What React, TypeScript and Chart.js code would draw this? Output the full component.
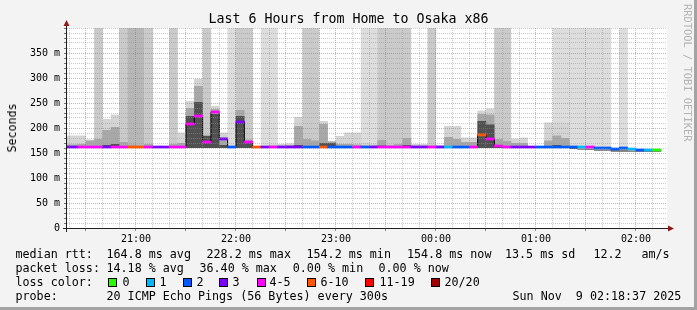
import React, { useEffect, useRef } from "react";
import { Chart, registerables } from "chart.js";

Chart.register(...registerables);

const MONO = "'DejaVu Sans Mono', monospace";

// ---------- data (one entry per 300 s step, step start time) ----------
const stepStart = [
  "20:15", "20:20", "20:25", "20:30", "20:35", "20:40", "20:45", "20:50", "20:55", "21:00", "21:05", "21:10",
  "21:15", "21:20", "21:25", "21:30", "21:35", "21:40", "21:45", "21:50", "21:55", "22:00", "22:05", "22:10",
  "22:15", "22:20", "22:25", "22:30", "22:35", "22:40", "22:45", "22:50", "22:55", "23:00", "23:05", "23:10",
  "23:15", "23:20", "23:25", "23:30", "23:35", "23:40", "23:45", "23:50", "23:55", "00:00", "00:05", "00:10",
  "00:15", "00:20", "00:25", "00:30", "00:35", "00:40", "00:45", "00:50", "00:55", "01:00", "01:05", "01:10",
  "01:15", "01:20", "01:25", "01:30", "01:35", "01:40", "01:45", "01:50", "01:55", "02:00", "02:05", "02:10",
];

// median rtt (ms)
const medianMs = [
  162, 162, 162, 162, 162, 162, 162, 162, 162, 162, 162, 162,
  162, 162, 162, 208, 224, 172, 232, 178, 162, 212, 172, 162,
  162, 162, 162, 162, 162, 162, 162, 162, 162, 162, 162, 162,
  162, 162, 162, 162, 162, 162, 162, 162, 162, 162, 162, 162,
  162, 162, 186, 178, 164, 162, 162, 162, 162, 162, 162, 162,
  162, 162, 162, 162, 160, 160, 158, 160, 158, 156, 156, 156,
];

// lost pings of 20 (drives the median colour)
const lossCount = [
  3, 3, 4, 4, 4, 3, 4, 4, 7, 7, 4, 3,
  3, 4, 4, 4, 4, 4, 4, 3, 2, 3, 4, 7,
  3, 4, 3, 3, 3, 2, 2, 7, 2, 2, 2, 4,
  2, 3, 4, 4, 4, 4, 3, 3, 4, 3, 1, 2,
  2, 4, 7, 4, 4, 4, 3, 3, 3, 2, 2, 2,
  2, 2, 1, 4, 2, 2, 2, 2, 1, 2, 1, 0,
];

// number of smoke bands running off the top of the graph
const lossBand = [
  0, 0, 0, 0, 2, 0, 0, 2, 3, 3, 2, 0,
  0, 2, 0, 0, 0, 2, 0, 0, 1, 2, 2, 0,
  1, 1, 0, 0, 0, 2, 2, 0, 0, 0, 0, 0,
  1, 1, 2, 2, 2, 2, 0, 0, 2, 0, 0, 0,
  0, 0, 0, 0, 2, 2, 0, 0, 0, 0, 0, 1,
  1, 1, 1, 1, 1, 1, 0, 1, 0, 0, 0, 0,
];

// smoke extents (ms)
const smokeLo = [
  160, 160, 160, 160, 160, 160, 160, 160, 160, 160, 160, 160,
  160, 160, 160, 160, 160, 160, 160, 160, 160, 160, 160, 160,
  160, 160, 160, 160, 160, 160, 160, 160, 160, 160, 160, 160,
  160, 160, 160, 160, 160, 160, 160, 160, 160, 160, 160, 160,
  160, 160, 160, 160, 160, 160, 160, 160, 160, 160, 160, 160,
  160, 158, 157, 156, 155, 155, 153, 153, 153, 152, 152, 152,
];
const smokeHi = [
  185, 185, 185, 177, 196, 218, 227, 183, 172, 168, 176, 163,
  163, 175, 191, 254, 298, 186, 244, 191, 164, 244, 180, 164,
  164, 167, 168, 169, 222, 196, 191, 214, 174, 184, 191, 191,
  170, 168, 186, 170, 175, 191, 168, 168, 168, 166, 204, 204,
  181, 181, 235, 239, 192, 186, 179, 181, 163, 163, 211, 211,
  211, 165, 163, 163, 161, 161, 159, 161, 159, 157, 157, 157,
];
const smokeMid = [
  167, 167, 168, 175, 178, 196, 202, 172, 167, 165, 168, 163,
  163, 168, 170, 240, 284, 186, 238, 182, 163, 236, 177, 163,
  163, 165, 165, 166, 204, 178, 175, 208, 173, 168, 168, 167,
  165, 165, 176, 166, 168, 180, 165, 165, 165, 164, 182, 178,
  172, 172, 228, 227, 178, 174, 170, 170, 163, 163, 175, 185,
  180, 162, 162, 162, 160, 160, 158, 159, 158, 156, 156, 156,
];
const smokeCore = [
  163, 163, 163, 163, 164, 166, 168, 163, 163, 163, 163, 163,
  163, 163, 163, 224, 252, 184, 228, 166, 163, 224, 170, 163,
  163, 163, 163, 163, 166, 163, 163, 170, 170, 163, 163, 163,
  163, 163, 165, 163, 163, 166, 163, 163, 163, 163, 164, 164,
  163, 163, 214, 207, 165, 164, 163, 163, 163, 163, 164, 166,
  164, 160, 158, 157, 156, 156, 155, 155, 154, 153, 153, 153,
];

const yTickLabels = ["0", "50 m", "100 m", "150 m", "200 m", "250 m", "300 m", "350 m"];
const xTickLabels = ["21:00", "22:00", "23:00", "00:00", "01:00", "02:00"];

const windowEnd = "02:18:37";
const windowHours = 6;
const stepMinutes = 5;

const lossLegend = ["0", "1", "2", "3", "4-5", "6-10", "11-19", "20/20"];
const lossLegendColors = ["#26ff00", "#00b8ff", "#0059ff", "#7e00ff", "#ff00ff", "#ff5500", "#ff0000", "#a10000"];

const statsRtt = ["164.8 ms avg", "228.2 ms max", "154.2 ms min", "154.8 ms now", "13.5 ms sd", "12.2", "am/s"];
const statsLoss = ["14.18 % avg", "36.40 % max", "0.00 % min", "0.00 % now"];
const probeText = "20 ICMP Echo Pings (56 Bytes) every 300s";
const stampText = "Sun Nov  9 02:18:37 2025";

// ---------- helpers ----------
function toMin(s: string): number {
  const p = s.split(":").map(Number);
  let h = p[0];
  if (h < 20) h += 24;
  return h * 60 + p[1] + (p[2] || 0) / 60 - 20 * 60;
}
function lossColor(n: number): string {
  if (n <= 0) return lossLegendColors[0];
  if (n === 1) return lossLegendColors[1];
  if (n === 2) return lossLegendColors[2];
  if (n === 3) return lossLegendColors[3];
  if (n <= 5) return lossLegendColors[4];
  if (n <= 10) return lossLegendColors[5];
  if (n <= 19) return lossLegendColors[6];
  return lossLegendColors[7];
}
const bandShade = ["", "#dddddd", "#cacaca", "#b7b7b7"];
const OUTER = "#d4d4d4";
const MID = "#a8a8a8";
const CORE = "#505050";
const MAJOR = "rgba(235, 80, 80, 0.55)";
const MINOR = "rgba(150, 150, 150, 0.5)";

export default function App() {
  const ref = useRef<HTMLCanvasElement>(null);

  useEffect(() => {
    const canvas = ref.current as HTMLCanvasElement;
    Chart.defaults.font.family = MONO;
    const xMax = toMin(windowEnd);
    const xMin = xMax - windowHours * 60;
    const xs = stepStart.map((s) => toMin(s) + stepMinutes / 2);

    const colIdx = xs.map((_, i) => i).filter((i) => lossBand[i] > 0);

    const barBase: any = {
      type: "bar",
      grouped: false,
      barPercentage: 1.05,
      categoryPercentage: 1,
      borderWidth: 0,
      borderSkipped: false,
      clip: 0,
    };

    const bgPlugin = {
      id: "plotBg",
      beforeDraw(chart: any) {
        const { ctx, chartArea: a } = chart;
        ctx.save();
        ctx.fillStyle = "#ffffff";
        ctx.fillRect(a.left, a.top, a.right - a.left, a.bottom - a.top);
        ctx.restore();
      },
    };
    const axisPlugin = {
      id: "axisArrows",
      afterDraw(chart: any) {
        const { ctx, chartArea: a } = chart;
        ctx.save();
        ctx.strokeStyle = "#202020";
        ctx.lineWidth = 1;
        ctx.beginPath();
        ctx.moveTo(a.left - 4, a.bottom + 0.5);
        ctx.lineTo(a.right + 2, a.bottom + 0.5);
        ctx.moveTo(a.left - 0.5, a.bottom + 4);
        ctx.lineTo(a.left - 0.5, a.top - 3);
        ctx.stroke();
        ctx.fillStyle = "#8e1a1a";
        ctx.beginPath();
        ctx.moveTo(a.left - 0.5, a.top - 8);
        ctx.lineTo(a.left - 3.5, a.top - 2);
        ctx.lineTo(a.left + 2.5, a.top - 2);
        ctx.closePath();
        ctx.fill();
        ctx.beginPath();
        ctx.moveTo(a.right + 7, a.bottom + 0.5);
        ctx.lineTo(a.right + 1, a.bottom - 2.5);
        ctx.lineTo(a.right + 1, a.bottom + 3.5);
        ctx.closePath();
        ctx.fill();
        ctx.restore();
      },
    };

    const chart = new Chart(canvas, {
      type: "bar",
      data: {
        datasets: [
          {
            ...barBase,
            order: 6,
            data: colIdx.map((i) => ({ x: xs[i], y: [smokeLo[i], 400] })),
            backgroundColor: colIdx.map((i) => bandShade[lossBand[i]]),
          },
          {
            ...barBase,
            order: 5,
            data: xs.map((x, i) => ({ x, y: [smokeLo[i], smokeHi[i]] })),
            backgroundColor: xs.map((_, i) => (lossBand[i] >= 2 ? bandShade[lossBand[i]] : OUTER)),
          },
          {
            ...barBase,
            order: 4,
            data: xs.map((x, i) => ({ x, y: [smokeLo[i], smokeMid[i]] })),
            backgroundColor: MID,
          },
          {
            ...barBase,
            order: 3,
            data: xs.map((x, i) => ({ x, y: [smokeLo[i], smokeCore[i]] })),
            backgroundColor: CORE,
          },
          {
            type: "line",
            order: 2,
            data: xs.map((x, i) => ({ x, y: medianMs[i] })),
            stepped: "middle",
            borderColor: "#000000",
            borderWidth: 1,
            pointRadius: 0,
            fill: false,
          },
          {
            ...barBase,
            barPercentage: 1.0,
            order: 1,
            data: xs.map((x, i) => ({ x, y: [medianMs[i] - 2, medianMs[i] + 2] })),
            backgroundColor: xs.map((_, i) => lossColor(lossCount[i])),
          },
        ] as any,
      },
      options: {
        responsive: false,
        animation: false,
        events: [],
        layout: { padding: { top: 28, left: 0, right: 30, bottom: 62 } },
        plugins: {
          legend: { display: false },
          tooltip: { enabled: false },
          title: { display: false },
        },
        scales: {
          x: {
            type: "linear",
            min: xMin,
            max: xMax,
            offset: false,
            afterBuildTicks: (s: any) => {
              const t: any[] = [];
              for (let v = 20; v < xMax; v += 10) t.push({ value: v });
              s.ticks = t;
            },
            afterFit: (s: any) => {
              s.height = 20;
            },
            grid: {
              offset: false,
              z: 1,
              lineWidth: 1,
              color: (c: any) => (c.tick && c.tick.value % 30 === 0 ? MAJOR : MINOR),
              tickLength: 3,
              tickColor: (c: any) => (c.tick && c.tick.value % 30 === 0 ? "rgba(220,60,60,0.8)" : "rgba(0,0,0,0)"),
            },
            border: { display: false, dash: [1, 1], z: 1 },
            ticks: {
              autoSkip: false,
              maxRotation: 0,
              minRotation: 0,
              padding: 2,
              z: 1,
              color: "#000000",
              font: { family: MONO, size: 10 },
              callback: (v: any) => {
                const n = Number(v);
                return n % 60 === 0 ? xTickLabels[n / 60 - 1] ?? "" : "";
              },
            },
          },
          y: {
            type: "linear",
            min: 0,
            max: 400,
            afterBuildTicks: (s: any) => {
              const t: any[] = [];
              for (let v = 0; v <= 400; v += 10) t.push({ value: v });
              s.ticks = t;
            },
            afterFit: (s: any) => {
              s.width = 67;
            },
            grid: {
              z: 1,
              lineWidth: 1,
              color: (c: any) =>
                c.tick && c.tick.value % 50 === 0 && c.tick.value < 400 ? MAJOR : MINOR,
              tickLength: 3,
              tickColor: "rgba(60,60,60,0.7)",
            },
            border: { display: false, dash: [1, 1], z: 1 },
            ticks: {
              autoSkip: false,
              padding: 4,
              z: 1,
              color: "#000000",
              font: { family: MONO, size: 10 },
              callback: (v: any) => {
                const n = Number(v);
                return n % 50 === 0 ? yTickLabels[n / 50] ?? "" : "";
              },
            },
          },
        },
      } as any,
      plugins: [bgPlugin, axisPlugin],
    });
    return () => chart.destroy();
  }, []);

  const legendFont = { fontFamily: MONO, fontSize: "11.7px", lineHeight: "14px", whiteSpace: "pre" as const };
  const rowTop = [247, 261, 275, 289];
  const txt = (left: number, top: number, s: string, key: string) => (
    <div key={key} style={{ position: "absolute", left, top, ...legendFont }}>
      {s}
    </div>
  );
  const rttX = [106.5, 206.5, 306.5, 407, 505, 593.5, 641.5];
  const lossX = [106.5, 199.5, 292.8, 378.5];
  const boxX = [108, 146, 183, 219, 257, 307, 365, 431];
  const boxLabelX = [122.5, 159.5, 196.5, 232.5, 269.5, 320.5, 379.5, 444.5];

  return (
    <div
      style={{
        position: "fixed",
        left: 0,
        top: 0,
        width: 697,
        height: 310,
        background: "#f3f3f3",
        overflow: "hidden",
        color: "#000",
        fontFamily: MONO,
      }}
    >
      <canvas ref={ref} width={697} height={310} style={{ position: "absolute", left: 0, top: 0, width: 697, height: 310 }} />
      <div
        style={{
          position: "absolute",
          left: 0,
          top: 11.4,
          width: 697,
          textAlign: "center",
          fontFamily: MONO,
          fontSize: "13.3px",
          lineHeight: "16px",
          whiteSpace: "pre",
        }}
      >
        Last 6 Hours from Home to Osaka x86
      </div>
      <div
        style={{
          position: "absolute",
          left: 11.5,
          top: 127.5,
          transform: "translate(-50%, -50%) rotate(-90deg)",
          fontFamily: MONO,
          fontSize: "11.6px",
          lineHeight: "14px",
          whiteSpace: "nowrap",
        }}
      >
        Seconds
      </div>
      <div
        style={{
          position: "absolute",
          left: 681.5,
          top: 4,
          writingMode: "vertical-rl",
          fontFamily: MONO,
          fontSize: "10.4px",
          lineHeight: "12px",
          color: "#b4b4b4",
          whiteSpace: "nowrap",
        }}
      >
        RRDTOOL / TOBI OETIKER
      </div>

      {txt(15.5, rowTop[0], "median rtt:", "r0")}
      {statsRtt.map((s, i) => txt(rttX[i], rowTop[0], s, "r" + (i + 1)))}
      {txt(15.5, rowTop[1], "packet loss:", "l0")}
      {statsLoss.map((s, i) => txt(lossX[i], rowTop[1], s, "l" + (i + 1)))}
      {txt(15.5, rowTop[2], "loss color:", "c0")}
      {lossLegend.map((s, i) => (
        <React.Fragment key={"lc" + i}>
          <div
            style={{
              position: "absolute",
              left: boxX[i],
              top: 278,
              width: 9,
              height: 9,
              boxSizing: "border-box",
              border: "1px solid #000",
              background: lossLegendColors[i],
            }}
          />
          {txt(boxLabelX[i], rowTop[2], s, "lt" + i)}
        </React.Fragment>
      ))}
      {txt(15.5, rowTop[3], "probe:", "p0")}
      {txt(106.5, rowTop[3], probeText, "p1")}
      {txt(512.5, rowTop[3], stampText, "p2")}

      <div style={{ position: "absolute", right: 0, top: 0, width: 3, height: 310, background: "#a3a3a3" }} />
      <div style={{ position: "absolute", left: 0, bottom: 0, width: 697, height: 3, background: "#a3a3a3" }} />
    </div>
  );
}
